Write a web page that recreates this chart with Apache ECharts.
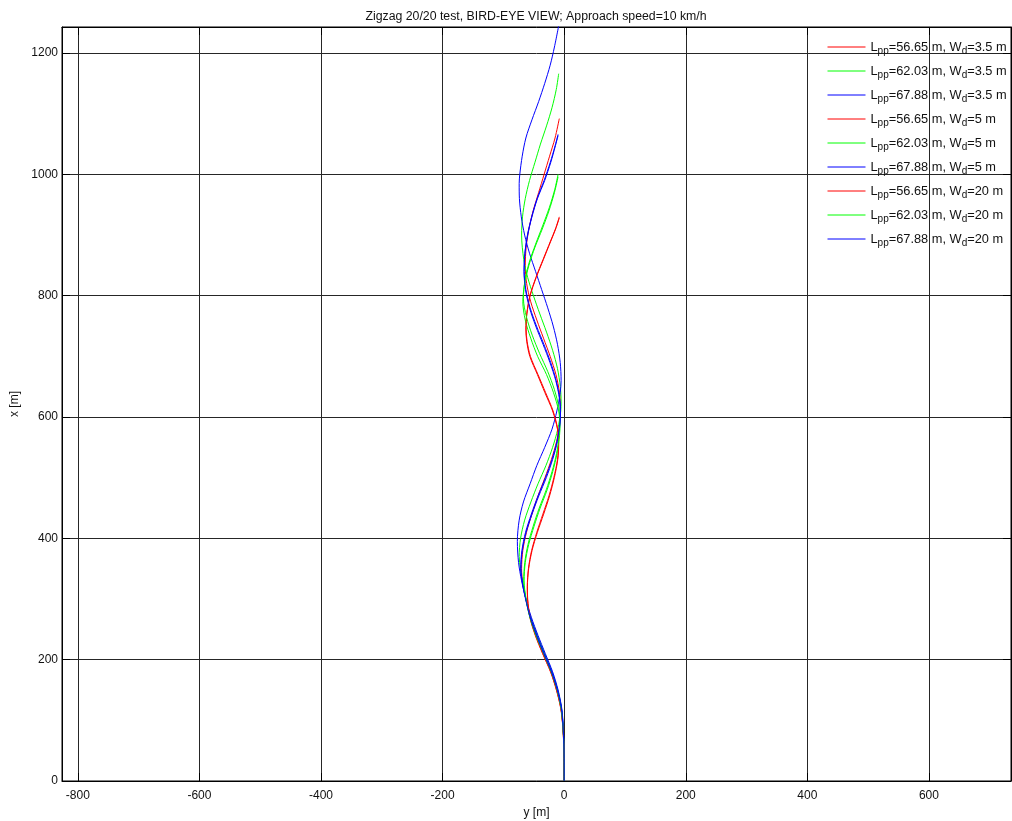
<!DOCTYPE html>
<html>
<head>
<meta charset="utf-8">
<title>Zigzag 20/20 test</title>
<script src="https://cdn.jsdelivr.net/npm/echarts@6/dist/echarts.min.js"></script>
<style>
  html, body { margin: 0; padding: 0; background: #fff; }
  #chart { width: 1012px; height: 821px; }
</style>
</head>
<body>
<div id="chart"></div>
<script>
// Ship tracks: each point is [x (along approach), y (lateral)] in metres.
const shipLengths = ['56.65', '62.03', '67.88'];
const waterDepths = ['3.5', '5', '20'];
const lineColors = ['#ff0000', '#00ff00', '#0000ff'];

const xTicks = [-800, -600, -400, -200, 0, 200, 400, 600];
const yTicks = [0, 200, 400, 600, 800, 1000, 1200];

// Wd = 3.5 m
const red35 = [[0,0],[30,0],[60,-0.6],[90,-2],[120,-5],[150,-11.5],[180,-21],[210,-33.5],[240,-46],[270,-56],[300,-63],[325,-68],[350,-70],[380,-68],[410,-62],[440,-53],[470,-43],[500,-31.6],[530,-21],[560,-12.4],[590,-7.3],[615,-6],[640,-7.6],[670,-13.5],[700,-23],[730,-34],[760,-45],[790,-55],[820,-61.7],[850,-64],[880,-62.5],[910,-58],[940,-51],[970,-42],[1000,-33],[1030,-24],[1060,-15],[1092,-8]];
const green35 = [[0,0],[30,0],[60,-0.5],[90,-1.7],[120,-4.3],[150,-10.5],[180,-20],[210,-32],[240,-44],[270,-55],[300,-63],[330,-69],[350,-72],[370,-74],[400,-71.7],[430,-65],[460,-54.7],[490,-43],[520,-30],[550,-19],[580,-10.5],[610,-5.6],[625,-5],[650,-6.3],[680,-11],[710,-19],[740,-29],[770,-40],[800,-50.5],[830,-60],[860,-66.5],[900,-70],[930,-68.5],[960,-64],[990,-57],[1020,-48],[1050,-39],[1080,-29],[1110,-20],[1140,-13],[1166,-9]];
const blue35 = [[0,0],[30,0],[60,-0.5],[90,-1.5],[120,-4],[150,-10],[180,-19],[210,-31],[240,-43],[270,-54],[300,-63],[330,-70],[360,-75],[395,-77],[430,-74],[460,-67],[490,-56],[520,-45],[550,-32],[580,-20],[610,-12],[640,-6.5],[660,-5],[690,-6.5],[720,-11],[750,-18],[780,-27],[810,-37],[840,-47],[870,-57],[900,-65],[930,-70.5],[960,-73.6],[985,-74],[1000,-73],[1030,-69],[1060,-63],[1090,-53],[1120,-42],[1150,-32],[1180,-23],[1210,-16],[1250,-8]];

// Wd = 5 m
const red5 = [[0,0],[30,0],[60,-0.7],[90,-2.2],[120,-5.5],[150,-12.5],[180,-22],[210,-35],[240,-47],[270,-56],[300,-60],[320,-60.5],[350,-58.4],[380,-52.8],[410,-44],[440,-33.7],[470,-24],[500,-16.2],[530,-10.5],[555,-9],[580,-11],[610,-19],[640,-31.6],[670,-44],[700,-56.5],[725,-61.6],[745,-63],[770,-61.5],[800,-56],[830,-46],[860,-34],[890,-22],[910,-14],[928,-8]];
const green5 = [[0,0],[30,0],[60,-0.6],[90,-2],[120,-5],[150,-11.5],[180,-21],[210,-33.5],[240,-46],[270,-56],[300,-62.5],[330,-66],[360,-64],[390,-58.3],[420,-49.5],[450,-39.5],[480,-28],[510,-18.8],[540,-11.7],[570,-7.6],[585,-7],[610,-9],[640,-17.5],[670,-29],[700,-43.6],[730,-55],[760,-64],[790,-68],[820,-65],[850,-58],[880,-48],[910,-36],[940,-25],[970,-16],[996,-10]];
const blue5 = [[0,0],[30,0],[60,-0.5],[90,-1.8],[120,-4.5],[150,-11],[180,-20.5],[210,-33],[240,-45],[270,-55.5],[300,-63],[325,-68],[350,-71],[380,-68.8],[410,-62.5],[440,-52.8],[470,-41.7],[500,-29.4],[530,-19],[560,-11],[590,-6.6],[605,-6],[630,-7.6],[660,-13.8],[690,-23.4],[720,-34.8],[750,-46.8],[780,-57],[810,-63.6],[840,-66],[870,-64.5],[900,-60],[930,-53],[960,-44],[990,-32],[1020,-22],[1045,-15],[1064,-10]];

// Wd = 20 m
const red20 = [[0,0],[30,0],[60,-0.7],[90,-2.3],[120,-5.7],[150,-12.8],[180,-22.5],[210,-35.5],[240,-47.5],[270,-56.5],[300,-60.3],[320,-60.6],[350,-58.8],[380,-53.5],[410,-45],[440,-35],[470,-25],[500,-17],[530,-11],[555,-9.2],[580,-10.6],[610,-18.2],[640,-30.4],[670,-43],[700,-55.5],[725,-61],[745,-62.6],[770,-61.4],[800,-56.3],[830,-46.5],[860,-34.6],[890,-22.5],[910,-14.4],[930,-8]];
const green20 = [[0,0],[30,0],[60,-0.6],[90,-2.1],[120,-5.2],[150,-11.8],[180,-21.5],[210,-34],[240,-46.5],[270,-56.5],[300,-63],[330,-66.5],[360,-64.8],[390,-59.5],[420,-51],[450,-41],[480,-29.5],[510,-20],[540,-12.5],[570,-8],[590,-7.2],[615,-8.6],[645,-16],[675,-27],[705,-40.5],[735,-52.5],[765,-62],[795,-67],[825,-64.5],[855,-57.5],[885,-47],[915,-35.5],[945,-24.5],[975,-15.5],[1000,-10]];
const blue20 = [[0,0],[30,0],[60,-0.5],[90,-1.9],[120,-4.7],[150,-11.3],[180,-21],[210,-33.5],[240,-45.5],[270,-56],[300,-63.5],[325,-68.5],[350,-71.5],[380,-69.5],[410,-63.5],[440,-54],[470,-43],[500,-30.8],[530,-20],[560,-11.8],[590,-7],[605,-6.3],[630,-7.4],[660,-13],[690,-22.2],[720,-33.4],[750,-45.5],[780,-56],[810,-63],[840,-65.8],[870,-64.6],[900,-60.4],[930,-53.5],[960,-44.6],[990,-33],[1020,-22.8],[1045,-15.5],[1066,-10]];

const tracks = [
  [red35, green35, blue35],
  [red5, green5, blue5],
  [red20, green20, blue20]
];

const seriesList = [];
const legendItems = [];
waterDepths.forEach((wd, di) => {
  shipLengths.forEach((lpp, li) => {
    const name = 'Lpp=' + lpp + ' m, Wd=' + wd + ' m';
    legendItems.push({
      name: name,
      itemStyle: { opacity: 0 },
      lineStyle: { color: lineColors[li], width: 1, opacity: 1 }
    });
    seriesList.push({
      name: name,
      type: 'line',
      xAxisIndex: 0,
      yAxisIndex: 0,
      // horizontal axis is lateral offset y, vertical axis is x
      data: tracks[di][li].map(p => [p[1], p[0]]),
      symbol: 'none',
      showSymbol: false,
      smooth: 0.3,
      clip: true,
      lineStyle: { color: lineColors[li], width: 1 },
      itemStyle: { color: lineColors[li] },
      emphasis: { disabled: true }
    });
  });
});

const textColor = '#111';
const font = 'Liberation Sans, Arial, Helvetica, sans-serif';
const plainNumber = v => String(v);

const chart = echarts.init(document.getElementById('chart'), null, { renderer: 'canvas' });
chart.setOption({
  animation: false,
  backgroundColor: '#fff',
  title: {
    text: 'Zigzag 20/20 test, BIRD-EYE VIEW; Approach speed=10 km/h',
    left: 531,
    top: 6,
    textAlign: 'center',
    textStyle: { fontSize: 12.3, fontWeight: 'normal', color: textColor, fontFamily: font }
  },
  grid: {
    left: 62, right: 1, top: 27, bottom: 40,
    outerBoundsMode: 'none',
    containLabel: false,
    show: true, borderColor: '#000', borderWidth: 1, backgroundColor: 'transparent'
  },
  legend: {
    orient: 'vertical',
    left: 827,
    top: 38,
    padding: 0,
    itemWidth: 38,
    itemHeight: 14,
    itemGap: 6,
    data: legendItems,
    formatter: function (name) {
      const m = name.match(/^Lpp=(.*) m, Wd=(.*) m$/);
      return '{t|L}{s|pp}{t|=' + m[1] + ' m, W}{s|d}{t|=' + m[2] + ' m}';
    },
    textStyle: {
      color: textColor,
      fontFamily: font,
      rich: {
        t: { fontSize: 12.8, fontFamily: font, color: textColor, lineHeight: 18 },
        s: { fontSize: 10, fontFamily: font, color: textColor, lineHeight: 10, padding: [8, 0, 0, 0] }
      }
    },
    selectedMode: false
  },
  xAxis: [{
    type: 'value',
    position: 'bottom',
    min: -826, max: 735,
    name: 'y [m]',
    nameLocation: 'middle',
    nameGap: 21,
    nameTextStyle: { fontSize: 12, color: textColor, fontFamily: font },
    axisLine: { show: true, onZero: false, lineStyle: { color: '#000', width: 1 } },
    axisTick: { show: true, inside: true, length: 8, customValues: xTicks, lineStyle: { color: '#000' } },
    axisLabel: { customValues: xTicks, formatter: plainNumber, fontSize: 12, color: textColor, fontFamily: font, margin: 9 },
    splitLine: { show: true, lineStyle: { color: '#262626', width: 1 } }
  }, {
    type: 'value',
    position: 'top',
    min: -826, max: 735,
    axisLine: { show: true, onZero: false, lineStyle: { color: '#000', width: 1 } },
    axisTick: { show: true, inside: true, length: 8, customValues: xTicks, lineStyle: { color: '#000' } },
    axisLabel: { show: false },
    splitLine: { show: false }
  }],
  yAxis: [{
    type: 'value',
    position: 'left',
    min: 0, max: 1243,
    name: 'x [m]',
    nameLocation: 'middle',
    nameRotate: 90,
    nameGap: 36,
    nameTextStyle: { fontSize: 12, color: textColor, fontFamily: font },
    axisLine: { show: true, onZero: false, lineStyle: { color: '#000', width: 1 } },
    axisTick: { show: true, inside: true, length: 8, customValues: yTicks, lineStyle: { color: '#000' } },
    axisLabel: { customValues: yTicks, formatter: plainNumber, fontSize: 12, color: textColor, fontFamily: font, margin: 4 },
    splitLine: { show: true, lineStyle: { color: '#262626', width: 1 } }
  }, {
    type: 'value',
    position: 'right',
    min: 0, max: 1243,
    axisLine: { show: true, onZero: false, lineStyle: { color: '#000', width: 1 } },
    axisTick: { show: true, inside: true, length: 8, customValues: yTicks, lineStyle: { color: '#000' } },
    axisLabel: { show: false },
    splitLine: { show: false }
  }],
  series: seriesList
});
</script>
</body>
</html>
